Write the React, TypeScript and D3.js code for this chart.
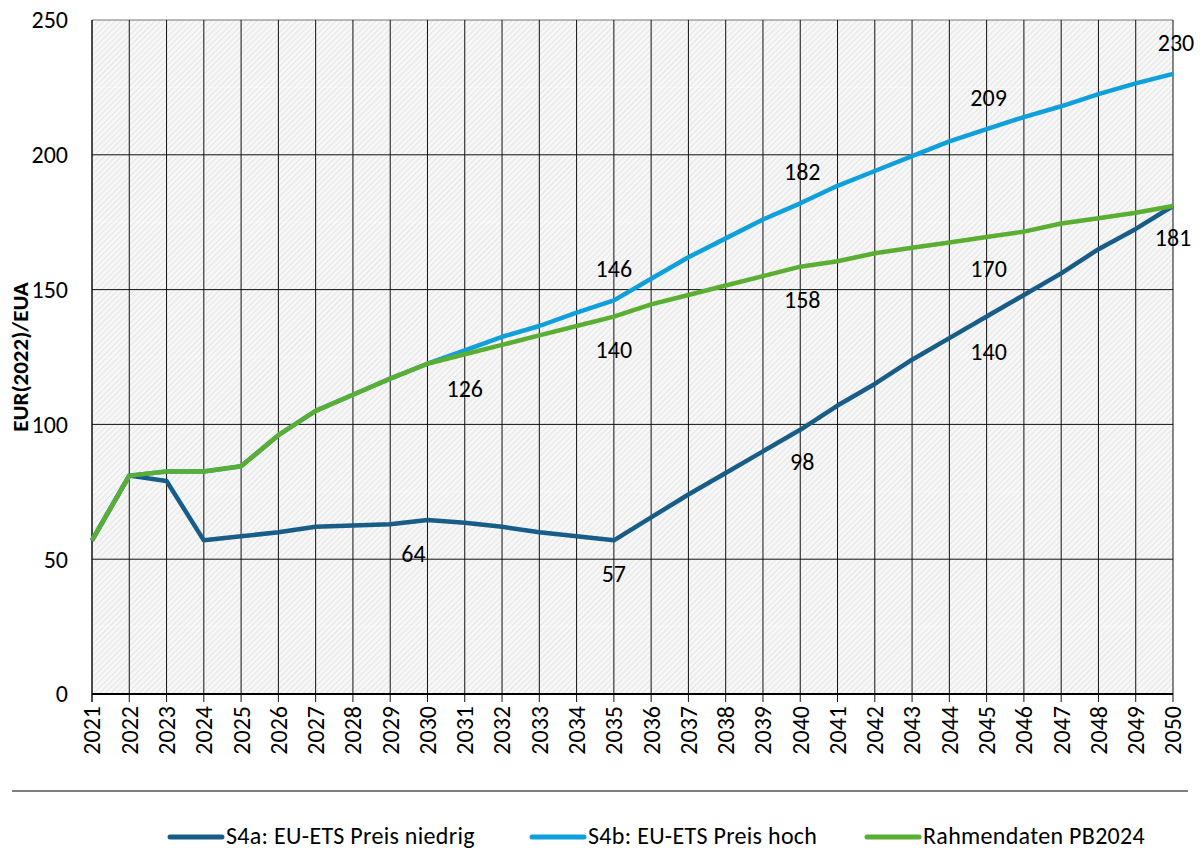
import React from "react";
import * as d3 from "d3";

const years = d3.range(2021, 2051);
const s4a = [57, 81, 79, 57, 58.5, 60, 62, 62.5, 63, 64.5, 63.5, 62, 60, 58.5, 57, 65.5, 74, 82, 90, 98, 107, 115, 124, 132, 140, 148, 156, 165, 172.5, 181];
const s4b = [57, 81, 82.5, 82.5, 84.5, 96, 105, 111, 117, 122.5, 127.5, 132.5, 136.5, 141.5, 146, 154, 162, 169, 176, 182, 188.5, 194, 199.5, 205, 209.5, 214, 218, 222.5, 226.5, 230];
const pb = [57, 81, 82.5, 82.5, 84.5, 96, 105, 111, 117, 122.5, 126, 129.5, 133, 136.5, 140, 144.5, 148, 151.5, 155, 158.5, 160.5, 163.5, 165.5, 167.5, 169.5, 171.5, 174.5, 176.5, 178.5, 181];
const yTicks = [0, 50, 100, 150, 200, 250];
const seriesNames = ["S4a: EU-ETS Preis niedrig", "S4b: EU-ETS Preis hoch", "Rahmendaten PB2024"];
const colors = ["#175d87", "#0fa0db", "#5aae32"];

// data labels: [series index, year, text, dx, dy]
const labels: [number, number, string, number, number][] = [
  [1, 2050, "230", 3, -31],
  [1, 2045, "209", 2, -32],
  [1, 2040, "182", 2, -32],
  [1, 2035, "146", 0, -32],
  [1, 2031, "126", 0, 38],
  [2, 2035, "140", 0, 33],
  [2, 2040, "158", 2, 33],
  [2, 2045, "170", 2, 32],
  [2, 2050, "181", 0, 32],
  [0, 2045, "140", 2, 35],
  [0, 2040, "98", 2, 32],
  [0, 2030, "64", -14, 33],
  [0, 2035, "57", 0, 33],
];

export default function App() {
  const W = 1203, H = 852;
  const x0 = 92, x1 = 1173, yTop = 20, yBot = 694;
  const x = d3.scaleLinear().domain([2021, 2050]).range([x0, x1]);
  const y = d3.scaleLinear().domain([0, 250]).range([yBot, yTop]);
  const all = [s4a, s4b, pb];
  const line = d3.line<number>().x((_, i) => x(years[i])).y((d) => y(d));
  const font = "Carlito, 'Open Sans', 'Liberation Sans', sans-serif";
  const minor = d3.range(25, 250, 50);
  const legendX = [170, 532, 867];

  return (
    <svg width={W} height={H} style={{ position: "absolute", left: 0, top: 0 }} fontFamily={font}>
      <defs>
        <pattern id="hatch" patternUnits="userSpaceOnUse" width="4" height="4" patternTransform="rotate(45)">
          <rect width="4" height="4" fill="#f7f7f7" />
          <line x1="0" y1="0" x2="0" y2="4" stroke="#e1e1e1" strokeWidth="1.6" />
        </pattern>
      </defs>
      <rect x={x0} y={yTop} width={x1 - x0} height={yBot - yTop} fill="url(#hatch)" />
      {minor.map((v) => (
        <line key={"m" + v} x1={x0} x2={x1} y1={y(v)} y2={y(v)} stroke="#ffffff" strokeOpacity={0.4} strokeWidth={1} />
      ))}
      {yTicks.map((v) => (
        <g key={"y" + v}>
          <line x1={x0} x2={x1} y1={y(v)} y2={y(v)} stroke={v === 250 ? "#777" : "#111"} strokeWidth={1} />
          <text x={68} y={y(v)} dy="0.35em" textAnchor="end" fontSize={24} fill="#000">{v}</text>
        </g>
      ))}
      {years.map((yr) => (
        <g key={"x" + yr}>
          <line x1={x(yr)} x2={x(yr)} y1={yTop} y2={yBot + 8} stroke="#111" strokeWidth={yr === 2021 ? 1.5 : 1} />
          <text transform={`translate(${x(yr)},${yBot + 12}) rotate(-90)`} textAnchor="end" dy="0.35em" fontSize={24} fill="#000">{yr}</text>
        </g>
      ))}
      <line x1={x0} x2={x1} y1={yBot} y2={yBot} stroke="#000" strokeWidth={2} />
      <text transform={`translate(28,357) rotate(-90)`} textAnchor="middle" fontSize={23} fontWeight="bold">EUR(2022)/EUA</text>
      {all.map((s, i) => (
        <path key={"s" + i} d={line(s) || ""} fill="none" stroke={colors[i]} strokeWidth={4.5} strokeLinejoin="round" />
      ))}
      {labels.map(([si, yr, t, dx, dy], k) => (
        <text key={"l" + k} x={x(yr) + dx} y={y(all[si][yr - 2021]) + dy} dy="0.35em" textAnchor="middle" fontSize={24} fill="#000">{t}</text>
      ))}
      <line x1={12} x2={1188} y1={791} y2={791} stroke="#555" strokeWidth={1.5} />
      {seriesNames.map((n, i) => (
        <g key={"lg" + i}>
          <line x1={legendX[i]} x2={legendX[i] + 52} y1={837} y2={837} stroke={colors[i]} strokeWidth={5} strokeLinecap="round" />
          <text x={legendX[i] + 56} y={844} fontSize={24} letterSpacing={0.3} fill="#000">{n}</text>
        </g>
      ))}
    </svg>
  );
}
